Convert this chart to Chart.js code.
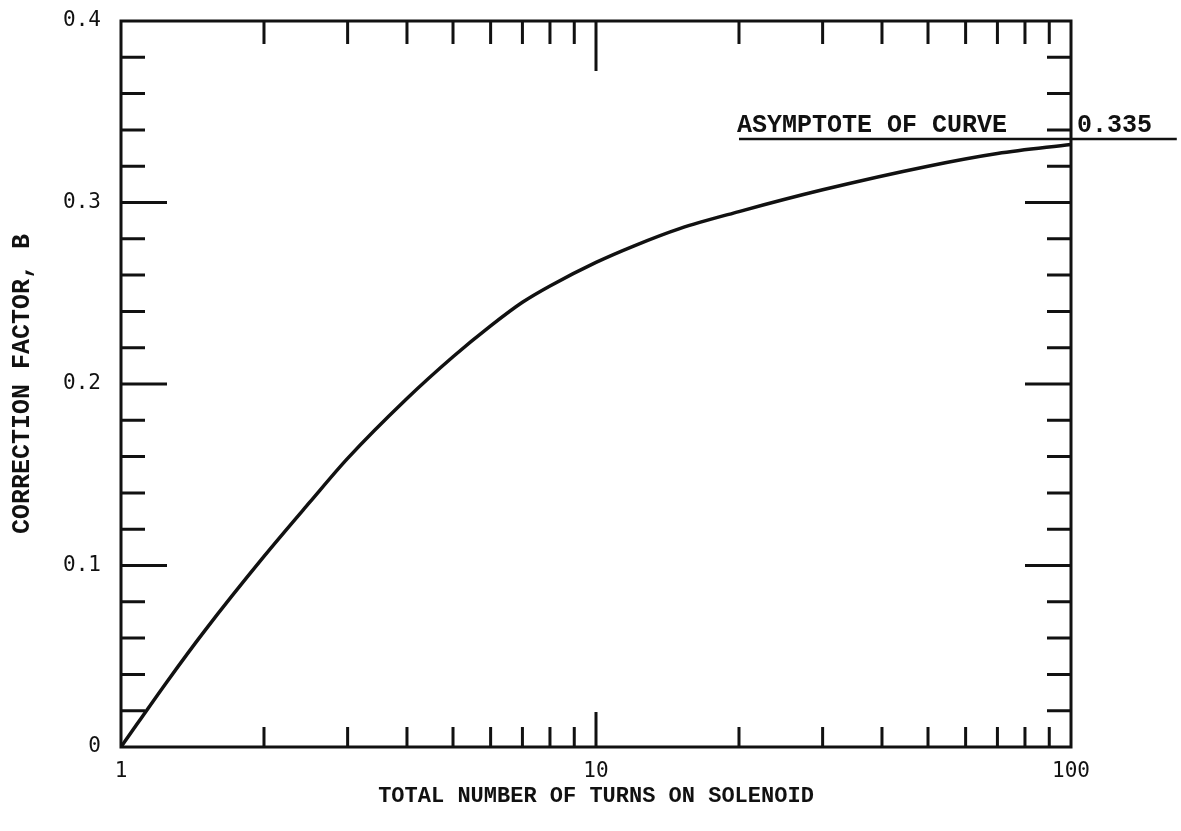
<!DOCTYPE html>
<html>
<head>
<meta charset="utf-8">
<script src="https://cdn.jsdelivr.net/npm/chart.js@4.4.1/dist/chart.umd.min.js"></script>
<style>
  html, body { margin: 0; padding: 0; background: #fff; }
  #wrap { width: 1181px; height: 831px; }
</style>
</head>
<body>
<div id="wrap"><canvas id="chart"></canvas></div>
<script>
// Número total de espiras (eixo x, log) e fator de correção B
const turns = [1, 1.25, 1.5, 2, 2.5, 3, 4, 5, 6, 7, 8, 10, 12, 15, 20, 30, 50, 70, 100];
const factorB = [0, 0.036, 0.064, 0.105, 0.135, 0.159, 0.192, 0.215, 0.232, 0.245, 0.254, 0.267, 0.276, 0.2856, 0.295, 0.307, 0.320, 0.327, 0.332];

// Assíntota da curva
const asymptoteValue = 0.335;
const asymptoteFrom = 20;
const asymptoteTo = 167;

const xTickLabels = [1, 10, 100];
const yTickLabels = [0, 0.1, 0.2, 0.3, 0.4];

const ink = '#111';

// Desenha moldura, marcas internas e texto da assíntota
const framePlugin = {
  id: 'frame',
  afterDraw(chart) {
    const { ctx, chartArea: a, scales } = chart;
    const x = scales.x, y = scales.y;
    ctx.save();
    ctx.strokeStyle = ink;
    ctx.lineWidth = 3;
    ctx.strokeRect(a.left, a.top, a.right - a.left, a.bottom - a.top);

    ctx.lineWidth = 3;
    ctx.beginPath();
    // marcas do eixo y (esquerda e direita), a cada 0.02
    for (let i = 1; i < 20; i++) {
      const py = y.getPixelForValue(i * 0.02);
      const len = i % 5 === 0 ? 46 : 24;
      ctx.moveTo(a.left, py); ctx.lineTo(a.left + len, py);
      ctx.moveTo(a.right, py); ctx.lineTo(a.right - len, py);
    }
    // marcas do eixo x (topo e base)
    for (const dec of [1, 10]) {
      for (let k = 2; k <= 10; k++) {
        const v = dec * k;
        if (v >= 100) continue;
        const px = x.getPixelForValue(v);
        const top = v === 10 ? 50 : 23;
        const bot = v === 10 ? 35 : 20;
        ctx.moveTo(px, a.top); ctx.lineTo(px, a.top + top);
        ctx.moveTo(px, a.bottom); ctx.lineTo(px, a.bottom - bot);
      }
    }
    ctx.stroke();

    // texto da assíntota
    const py = y.getPixelForValue(asymptoteValue);
    ctx.fillStyle = ink;
    ctx.font = 'bold 25px "Liberation Mono"';
    ctx.textBaseline = 'alphabetic';
    ctx.textAlign = 'left';
    ctx.fillText('ASYMPTOTE OF CURVE', x.getPixelForValue(asymptoteFrom) - 2, py - 7);
    ctx.fillText('0.335', a.right + 6, py - 7);
    ctx.restore();
  }
};

const ctx = document.getElementById('chart').getContext('2d');
new Chart(ctx, {
  type: 'line',
  data: {
    datasets: [
      {
        data: turns.map((t, i) => ({ x: t, y: factorB[i] })),
        borderColor: ink,
        borderWidth: 3.5,
        pointRadius: 0,
        cubicInterpolationMode: 'monotone',
        fill: false
      },
      {
        data: [{ x: asymptoteFrom, y: asymptoteValue }, { x: asymptoteTo, y: asymptoteValue }],
        borderColor: ink,
        borderWidth: 2.5,
        pointRadius: 0,
        clip: false
      }
    ]
  },
  options: {
    responsive: true,
    maintainAspectRatio: false,
    animation: false,
    layout: { padding: { left: 0, top: 21, right: 110, bottom: 0 } },
    plugins: { legend: { display: false }, tooltip: { enabled: false } },
    scales: {
      x: {
        type: 'logarithmic',
        min: 1,
        max: 100,
        afterBuildTicks: (scale) => { scale.ticks = xTickLabels.map(v => ({ value: v })); },
        afterFit: (scale) => { scale.height = 84; },
        grid: { display: false, drawTicks: false },
        border: { display: false },
        ticks: {
          color: ink,
          padding: 12,
          maxRotation: 0,
          font: { family: 'DejaVu Sans Mono', size: 21 },
          callback: (v) => String(v)
        },
        title: {
          display: true,
          text: 'TOTAL NUMBER OF TURNS ON SOLENOID',
          color: ink,
          font: { family: 'Liberation Mono', size: 22, weight: 'bold' },
          padding: { top: 0, bottom: 21 }
        }
      },
      y: {
        type: 'linear',
        min: 0,
        max: 0.4,
        afterBuildTicks: (scale) => { scale.ticks = yTickLabels.map(v => ({ value: v })); },
        afterFit: (scale) => {
          scale.width = 121;
          scale.paddingTop = 0;
          scale.paddingBottom = 0;
        },
        grid: { display: false, drawTicks: false },
        border: { display: false },
        ticks: {
          color: ink,
          padding: 20,
          font: { family: 'DejaVu Sans Mono', size: 21 },
          callback: (v) => String(v)
        },
        title: {
          display: true,
          text: 'CORRECTION FACTOR, B',
          color: ink,
          font: { family: 'Liberation Mono', size: 25, weight: 'bold' },
          padding: { top: 8, bottom: 0 }
        }
      }
    }
  },
  plugins: [framePlugin]
});
</script>
</body>
</html>
